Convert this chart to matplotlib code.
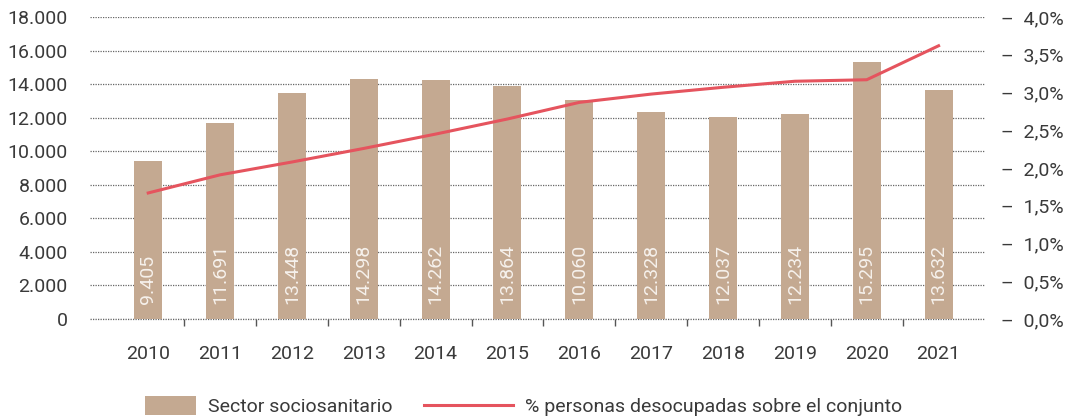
import matplotlib.pyplot as plt
from matplotlib.patches import Rectangle
from matplotlib.container import BarContainer
from matplotlib.legend_handler import HandlerPatch
from matplotlib.ticker import FixedLocator

years = ["2010", "2011", "2012", "2013", "2014", "2015",
         "2016", "2017", "2018", "2019", "2020", "2021"]
sector = [9405, 11691, 13448, 14298, 14262, 13864,
          13060, 12328, 12037, 12234, 15295, 13632]
bar_labels = ["9.405", "11.691", "13.448", "14.298", "14.262", "13.864",
              "10.060", "12.328", "12.037", "12.234", "15.295", "13.632"]
pct_desocupadas = [1.67, 1.91, 2.08, 2.26, 2.45, 2.65,
                   2.87, 2.98, 3.07, 3.15, 3.17, 3.62]
left_ticks = list(range(0, 18001, 2000))
right_ticks = [0.0, 0.5, 1.0, 1.5, 2.0, 2.5, 3.0, 3.5, 4.0]

BAR = "#C4A991"
LINE = "#E5545E"
TXT = "#3a3a3a"
FS = 14

plt.rcParams["font.family"] = ["Roboto", "DejaVu Sans"]

fig = plt.figure(figsize=(10.78, 4.17), dpi=100)
ax = fig.add_axes([0.0835, 0.235, 0.8305, 0.724])
ax2 = ax.twinx()

x = list(range(len(years)))
bars = ax.bar(x, sector, width=0.39, color=BAR, zorder=2, label="Sector sociosanitario")
for xi, lab in zip(x, bar_labels):
    ax.annotate(lab, (xi, 0), xytext=(0, 11), textcoords="offset points",
                rotation=90, ha="center", va="bottom", color="#F6F1EC",
                fontsize=FS, zorder=3)

line, = ax2.plot(x, pct_desocupadas, color=LINE, lw=2.2,
                 label="% personas desocupadas sobre el conjunto")

ax.set_xlim(-0.81, 11.65)
ax.set_ylim(0, 18000)
ax2.set_ylim(0, 4.0)

ax.set_yticks(left_ticks)
ax.set_yticklabels([f"{v:,}".replace(",", ".") for v in left_ticks])
ax2.set_yticks(right_ticks)
ax2.set_yticklabels(["\u2013  " + f"{v:.1f}".replace(".", ",") + "%" for v in right_ticks])

ax.set_xticks(x)
ax.set_xticklabels(years)
ax.xaxis.set_minor_locator(FixedLocator([i + 0.5 for i in range(11)]))
ax.tick_params(axis="x", which="major", length=0, pad=19, labelsize=FS, colors=TXT)
ax.tick_params(axis="x", which="minor", length=5, width=1, color="#555555", direction="out")
ax.tick_params(axis="y", length=0, pad=16, labelsize=FS, colors=TXT)
ax2.tick_params(axis="y", length=0, pad=11, labelsize=FS, colors=TXT)

ax.grid(True, axis="y", linestyle=(0, (1, 1)), color="#666666", lw=0.9, zorder=0)
ax.axhline(0, linestyle=(0, (1, 1)), color="#666666", lw=0.9, zorder=1, clip_on=False)
ax.set_axisbelow(True)
for a in (ax, ax2):
    for s in a.spines.values():
        s.set_visible(False)


def short_patch(legend, orig_handle, xdescent, ydescent, width, height, fontsize):
    w = width * 0.57
    return Rectangle((width - w - xdescent, -ydescent - 2), w, height + 4)


fig.legend(handles=[bars, line], loc="lower center", bbox_to_anchor=(0.468, -0.04),
           ncol=2, frameon=False, fontsize=FS, handlelength=4.6, handleheight=0.7,
           handletextpad=0.6, columnspacing=1.6, labelcolor=TXT,
           handler_map={BarContainer: HandlerPatch(
               patch_func=short_patch,
               update_func=lambda h, o: h.update_from(o.patches[0]))})

fig.savefig("out.png", dpi=100, facecolor="white")
